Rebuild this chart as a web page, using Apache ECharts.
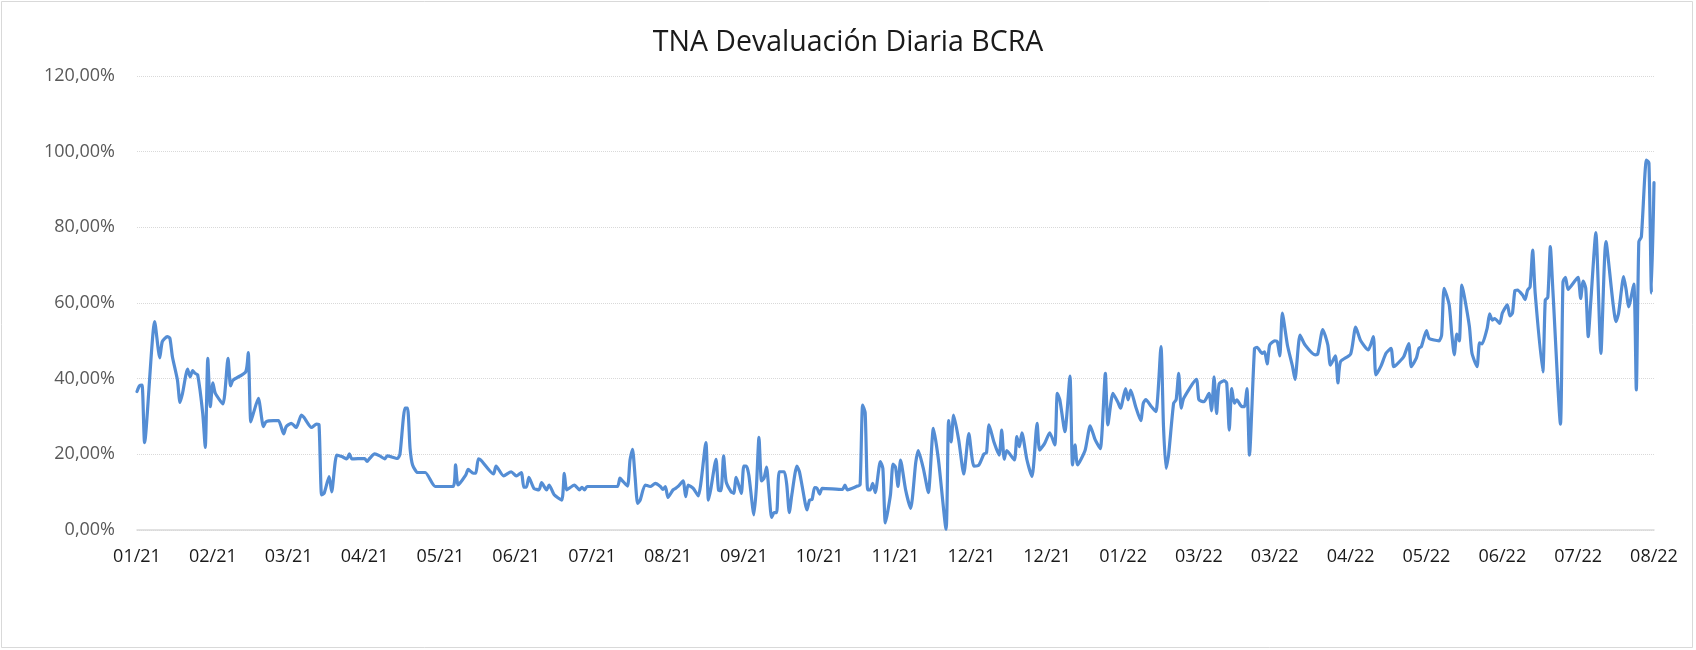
<!DOCTYPE html>
<html>
<head>
<meta charset="utf-8">
<script src="https://cdn.jsdelivr.net/npm/echarts@6/dist/echarts.min.js"></script>
<style>
html,body{margin:0;padding:0;background:#fff;}
#chart{width:1696px;height:650px;}
</style>
</head>
<body>
<div id="chart"></div>
<script>
// Tick labels along the x axis (one every 30 positions)
const tickLabels = ["01/21","02/21","03/21","04/21","05/21","06/21","07/21","08/21","09/21","10/21","11/21","12/21","12/21","01/22","03/22","03/22","04/22","05/22","06/22","07/22","08/22"];

// Position along the time axis (0..600) of each reading
const position = [0,1,2,3,7,9,10,12,13,14,16,17,18,20,21,22,23,24,26,27,28,29,30,31,34,36,37,38,43,44,45,46,48,50,51,54,56,58,59,61,63,65,66,69,71,72,73,74,76,77,79,81,83,84,85,90,91,92,94,96,98,99,103,104,106,107,108,109,111,114,118,125,126,127,130,131,133,134,135,136,141,142,145,148,150,152,153,154,155,157,159,160,162,163,165,168,169,170,173,175,176,177,178,190,191,192,194,195,196,197,198,199,201,203,205,207,208,209,210,212,213,214,216,217,218,220,222,225,226,227,229,230,231,232,233,235,236,237,239,240,241,242,244,245,246,247,248,249,250,251,252,253,254,256,257,258,259,261,262,263,265,266,267,268,269,270,271,279,280,281,285,286,287,288,289,290,291,292,294,295,296,298,299,300,301,302,304,306,308,309,311,313,315,317,320,321,322,323,325,327,329,331,333,335,336,337,339,341,342,343,344,347,348,349,350,352,354,356,357,359,361,363,364,365,367,369,370,371,372,375,377,379,381,383,384,386,388,389,391,392,393,395,397,398,399,401,403,405,406,407,408,410,411,412,413,414,419,420,422,424,425,426,427,428,430,431,432,433,434,435,437,438,439,440,442,443,445,446,447,448,450,451,452,453,455,457,458,460,462,466,467,469,471,472,474,475,476,480,482,484,487,489,490,492,494,496,497,498,501,503,504,506,507,508,510,511,513,515,516,517,519,520,521,522,523,524,525,527,528,530,531,532,534,535,536,537,539,540,542,543,544,545,546,548,549,550,551,552,553,556,557,558,559,560,563,564,565,566,569,570,571,572,573,574,575,577,579,581,585,586,588,589,590,592,593,594,595,597,598,599,600];

// TNA devaluación diaria (%)
const tna = [36.6,38.1,38.3,23.1,55.1,45.5,49.8,51.1,50.7,45.8,39.6,33.7,36.1,42.5,40.5,42.1,41.4,41.0,30.8,21.8,45.4,32.6,38.9,36.1,33.3,45.4,38.1,39.6,41.8,46.9,28.6,30.8,34.8,27.3,28.6,28.9,28.9,25.4,27.3,28.2,27.1,30.4,29.8,27.1,28.0,27.8,9.3,9.7,14.1,10.1,19.8,19.4,18.8,20.1,18.8,18.9,18.1,18.9,20.1,19.6,18.8,19.6,18.9,20.0,32.2,32.2,21.6,17.2,15.2,15.2,11.5,11.5,17.2,11.9,14.5,16.0,15.0,15.0,18.8,18.5,14.8,16.9,14.3,15.4,14.3,15.2,11.3,11.3,13.9,11.0,10.6,12.5,10.6,11.9,9.3,7.9,15.0,10.6,11.9,10.6,11.3,10.6,11.5,11.5,13.7,13.0,11.6,18.5,21.3,14.1,7.0,7.9,11.9,11.5,12.3,11.5,10.7,11.5,8.6,10.6,11.0,11.5,13.0,8.8,11.9,11.0,9.0,23.1,7.9,11.0,18.7,10.6,10.4,19.6,12.8,10.1,9.7,13.9,9.7,16.9,16.9,14.5,4.0,11.5,24.5,13.0,13.7,16.6,9.7,3.3,4.6,4.6,15.4,15.4,11.9,4.6,9.3,16.9,15.4,11.9,5.3,7.9,8.1,11.2,11.0,9.5,11.0,10.7,11.9,10.6,11.6,11.9,33.0,31.0,10.6,10.6,12.3,9.9,18.1,16.3,1.9,9.3,17.4,16.6,11.5,18.5,10.6,5.7,17.8,21.0,16.3,9.9,26.9,18.5,0.2,28.9,23.3,30.4,23.8,14.8,25.5,16.9,17.2,20.1,20.4,27.8,23.1,19.8,26.4,18.7,21.0,18.5,24.7,22.0,25.7,18.5,14.1,28.2,21.1,22.9,25.7,22.5,36.1,34.4,26.0,40.7,17.2,22.5,17.2,21.1,27.5,23.8,21.5,41.4,27.8,36.1,33.7,32.2,37.4,34.4,37.0,32.6,28.9,33.5,34.5,32.8,31.3,48.5,27.3,16.3,19.8,33.5,34.4,41.4,32.2,34.8,39.8,34.4,33.9,36.1,31.5,40.5,30.8,38.6,39.5,38.8,26.4,37.4,33.5,34.4,32.6,32.6,37.4,19.8,48.0,48.3,46.7,47.1,43.9,48.9,50.0,49.8,46.0,57.3,48.9,43.3,39.8,51.5,48.9,46.3,46.5,53.0,48.9,43.6,46.0,38.9,44.5,46.5,53.6,50.0,47.6,51.1,41.0,43.3,46.7,48.0,43.2,43.6,45.8,49.3,43.2,45.4,48.0,48.5,52.7,50.7,50.2,50.0,51.5,63.9,59.5,52.0,46.3,51.8,50.0,64.7,61.7,53.7,46.7,43.2,49.5,49.2,53.3,57.1,55.5,55.9,54.6,57.3,59.5,56.6,57.3,63.3,63.4,62.1,60.9,63.4,64.3,74.0,62.6,41.8,60.8,61.5,74.9,63.4,28.0,65.6,66.8,63.6,66.1,66.8,61.2,65.8,63.9,51.1,60.4,78.6,46.7,76.2,55.1,57.3,67.0,63.4,59.0,65.0,37.0,76.2,77.5,97.8,97.0,62.6,91.8];

const seriesData = position.map((p, i) => [p, tna[i]]);

const chart = echarts.init(document.getElementById('chart'), null, {renderer: 'canvas'});
chart.setOption({
  animation: false,
  backgroundColor: '#ffffff',
  title: {
    text: 'TNA Devaluación Diaria BCRA',
    left: 'center',
    top: 23,
    textStyle: {fontFamily: 'Open Sans', fontSize: 28.5, fontWeight: 'normal', color: '#1a1a1a'}
  },
  graphic: [{
    type: 'rect',
    shape: {x: 1.5, y: 1.5, width: 1691, height: 646},
    style: {fill: 'none', stroke: '#d9d9d9', lineWidth: 1}
  }],
  grid: {left: 137, right: 42, top: 76, bottom: 120, containLabel: false},
  xAxis: {
    type: 'value',
    min: 0,
    max: 600,
    interval: 30,
    axisLine: {show: true, lineStyle: {color: '#d9d9d9', width: 1.5}},
    axisTick: {show: false},
    splitLine: {show: false},
    axisLabel: {
      showMinLabel: true,
      showMaxLabel: true,
      margin: 18,
      fontFamily: 'Open Sans',
      fontSize: 18,
      color: '#1a1a1a',
      formatter: v => tickLabels[Math.round(v / 30)] || ''
    }
  },
  yAxis: {
    type: 'value',
    min: 0,
    max: 120,
    interval: 20,
    axisLine: {show: false},
    axisTick: {show: false},
    splitLine: {show: true, lineStyle: {color: '#d9d9d9', type: 'dotted', width: 1}},
    axisLabel: {
      margin: 22,
      fontFamily: 'Open Sans',
      fontSize: 18,
      color: '#595959',
      formatter: v => v.toFixed(2).replace('.', ',') + '%'
    }
  },
  series: [{
    type: 'line',
    data: seriesData,
    showSymbol: false,
    smooth: 0.2,
    lineStyle: {color: '#548dd4', width: 3.2, cap: 'round', join: 'round'},
    itemStyle: {color: '#548dd4'}
  }]
});
</script>
</body>
</html>
